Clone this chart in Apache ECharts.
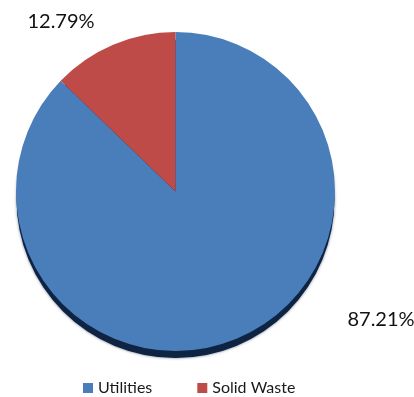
<!DOCTYPE html>
<html>
<head>
<meta charset="utf-8">
<script src="https://cdn.jsdelivr.net/npm/echarts@6/dist/echarts.min.js"></script>
<style>
  html, body { margin: 0; padding: 0; background: #ffffff; }
  #chart { width: 414px; height: 397px; }
</style>
</head>
<body>
<div id="chart"></div>
<script>
// Share of spending by category (percent)
const categories = ['Utilities', 'Solid Waste'];
const shares = [87.21, 12.79];
const sliceColors = ['#4A7EBB', '#BE4B48'];

// Fixed spots for the two percentage labels
const labelSpots = [
  { x: 381, y: 320 },
  { x: 61, y: 22 }
];

const FONT = 'Lato, "Liberation Sans", sans-serif';

const chart = echarts.init(document.getElementById('chart'), null, { renderer: 'canvas' });

chart.setOption({
  animation: false,
  legend: {
    data: categories,
    left: 83,
    top: 380,
    padding: 0,
    itemWidth: 10,
    itemHeight: 10,
    itemGap: 45,
    icon: 'rect',
    textStyle: { fontFamily: FONT, fontSize: 16, color: '#1a1a1a' }
  },
  series: [
    {
      // dark rim beneath the pie that gives it depth
      type: 'pie',
      silent: true,
      center: [175.5, 199],
      radius: 159,
      startAngle: 90,
      z: 1,
      label: { show: false },
      labelLine: { show: false },
      itemStyle: { color: '#0E2442', shadowBlur: 3, shadowColor: 'rgba(14,36,66,0.6)' },
      data: categories.map((name, i) => ({ name: name + ' rim', value: shares[i] }))
    },
    {
      type: 'pie',
      center: [175.5, 191.5],
      radius: 159.5,
      startAngle: 90,
      clockwise: true,
      z: 2,
      itemStyle: { borderWidth: 0 },
      label: {
        show: true,
        position: 'outside',
        overflow: 'none',
        formatter: p => p.value.toFixed(2) + '%',
        fontFamily: FONT,
        fontSize: 20,
        color: '#111111'
      },
      labelLine: { show: false },
      labelLayout: p => ({
        x: labelSpots[p.dataIndex].x,
        y: labelSpots[p.dataIndex].y,
        align: 'center',
        verticalAlign: 'middle',
        hideOverlap: false
      }),
      emphasis: { disabled: true },
      data: categories.map((name, i) => ({
        name: name,
        value: shares[i],
        itemStyle: { color: sliceColors[i] }
      }))
    }
  ]
});
</script>
</body>
</html>
